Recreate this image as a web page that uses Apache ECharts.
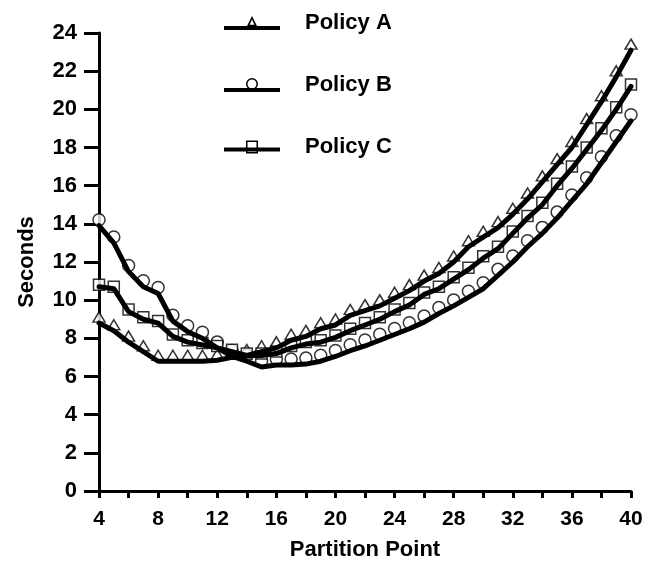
<!DOCTYPE html>
<html>
<head>
<meta charset="utf-8">
<script src="https://cdn.jsdelivr.net/npm/echarts@6/dist/echarts.min.js"></script>
<style>
  html, body { margin: 0; padding: 0; background: #fff; }
  #chart { width: 657px; height: 562px; }
</style>
</head>
<body>
<div id="chart"></div>
<script>
// 横轴：分区点
const partitionPoints = [4, 5, 6, 7, 8, 9, 10, 11, 12, 13, 14, 15, 16, 17, 18, 19, 20, 21, 22,
  23, 24, 25, 26, 27, 28, 29, 30, 31, 32, 33, 34, 35, 36, 37, 38, 39, 40];

// 各策略耗时（秒）
const policyA = [8.8, 8.4, 7.8, 7.3, 6.8, 6.8, 6.8, 6.8, 6.85, 7.0, 7.1, 7.3, 7.5, 7.9, 8.1, 8.5, 8.7,
  9.2, 9.45, 9.7, 10.1, 10.5, 11.0, 11.4, 12.0, 12.8, 13.3, 13.8, 14.5, 15.3, 16.2, 17.1, 18.0,
  19.2, 20.4, 21.7, 23.1];
const policyB = [13.9, 13.0, 11.5, 10.7, 10.35, 8.9, 8.35, 8.0, 7.5, 7.05, 6.8, 6.5, 6.6, 6.6, 6.65,
  6.8, 7.05, 7.35, 7.6, 7.9, 8.2, 8.5, 8.85, 9.3, 9.7, 10.15, 10.6, 11.3, 12.0, 12.8, 13.5, 14.3,
  15.2, 16.1, 17.2, 18.3, 19.4];
const policyC = [10.7, 10.6, 9.4, 9.0, 8.8, 8.1, 7.8, 7.65, 7.5, 7.3, 7.1, 7.1, 7.2, 7.5, 7.7, 7.8,
  8.05, 8.4, 8.7, 9.0, 9.4, 9.75, 10.3, 10.6, 11.1, 11.6, 12.2, 12.7, 13.5, 14.3, 15.0, 16.0,
  16.9, 17.9, 18.9, 20.0, 21.2];

const yTicks = { min: 0, max: 24, step: 2 };

// 图例图标：粗线 + 线上方的空心标记
const LEGEND_ICONS = {
  triangle: 'path://M0 10H56V14H0Z M23 10L28 0L33 10Z M25.6 8.8L30.4 8.8L28 3.6Z',
  circle: 'path://M0 10H56V14H0Z M22 6A6 6 0 1 1 34 6A6 6 0 1 1 22 6Z M23.5 6A4.5 4.5 0 1 0 32.5 6A4.5 4.5 0 1 0 23.5 6Z',
  rect: 'path://M0 7H56V11H0Z M22 0H34V13H22Z M23.5 1.5V11.5H32.5V1.5Z',
};

const policies = [
  { name: 'Policy A', values: policyA, symbol: 'triangle', size: [12, 10], offset: -6 },
  { name: 'Policy B', values: policyB, symbol: 'circle', size: 12, offset: -6 },
  { name: 'Policy C', values: policyC, symbol: 'rect', size: 11, offset: -2 },
];

const FONT = 'Liberation Sans, Arial, Helvetica, sans-serif';
const chart = echarts.init(document.getElementById('chart'));

const toPairs = values => partitionPoints.map((x, i) => [x, values[i]]);

const series = [];
policies.forEach(p => {
  // 空心标记，放在粗线下面
  series.push({
    name: p.name + ' marks',
    type: 'scatter',
    data: toPairs(p.values),
    symbol: p.symbol,
    symbolSize: p.size,
    symbolOffset: [0, p.offset],
    itemStyle: { color: '#fff', borderColor: '#000', borderWidth: 1.5 },
    z: 1,
    silent: true,
  });
  // 粗折线
  series.push({
    name: p.name,
    type: 'line',
    data: toPairs(p.values),
    showSymbol: false,
    itemStyle: { color: '#000' },
    lineStyle: { color: '#000', width: 5, join: 'round', cap: 'round' },
    z: 2,
    silent: true,
  });
});

chart.setOption({
  animation: false,
  backgroundColor: '#fff',
  textStyle: { fontFamily: FONT },
  grid: { left: 99, right: 26, top: 33, bottom: 71, containLabel: false, outerBoundsMode: 'none' },
  legend: {
    data: policies.map(p => ({
      name: p.name,
      icon: LEGEND_ICONS[p.symbol],
      itemStyle: { color: '#000', borderWidth: 0 },
    })),
    orient: 'vertical',
    left: 219,
    top: 7,
    itemWidth: 56,
    itemHeight: 14,
    itemGap: 40,
    selectedMode: false,
    textStyle: { color: '#000', fontSize: 22, fontWeight: 'bold', fontFamily: FONT, padding: [0, 0, 0, 20] },
  },
  xAxis: {
    type: 'value',
    min: 4,
    max: 40,
    interval: 2,
    name: 'Partition Point',
    nameLocation: 'middle',
    nameGap: 48,
    nameTextStyle: { color: '#000', fontSize: 22, fontWeight: 'bold', fontFamily: FONT },
    axisLine: { show: true, onZero: false, lineStyle: { color: '#000', width: 3 } },
    axisTick: { show: true, length: 7, lineStyle: { color: '#000', width: 3 } },
    axisLabel: {
      color: '#000',
      fontSize: 21,
      fontWeight: 'bold',
      fontFamily: FONT,
      margin: 18,
      formatter: v => (v % 4 === 0 ? String(v) : ''),
    },
    splitLine: { show: false },
  },
  yAxis: {
    type: 'value',
    min: yTicks.min,
    max: yTicks.max,
    interval: yTicks.step,
    name: 'Seconds',
    nameLocation: 'middle',
    nameGap: 61,
    nameTextStyle: { color: '#000', fontSize: 22, fontWeight: 'bold', fontFamily: FONT },
    axisLine: { show: true, lineStyle: { color: '#000', width: 3 } },
    axisTick: { show: true, length: 15, lineStyle: { color: '#000', width: 3 } },
    axisLabel: { color: '#000', fontSize: 22, fontWeight: 'bold', fontFamily: FONT, margin: 22 },
    splitLine: { show: false },
  },
  series: series,
});
</script>
</body>
</html>
